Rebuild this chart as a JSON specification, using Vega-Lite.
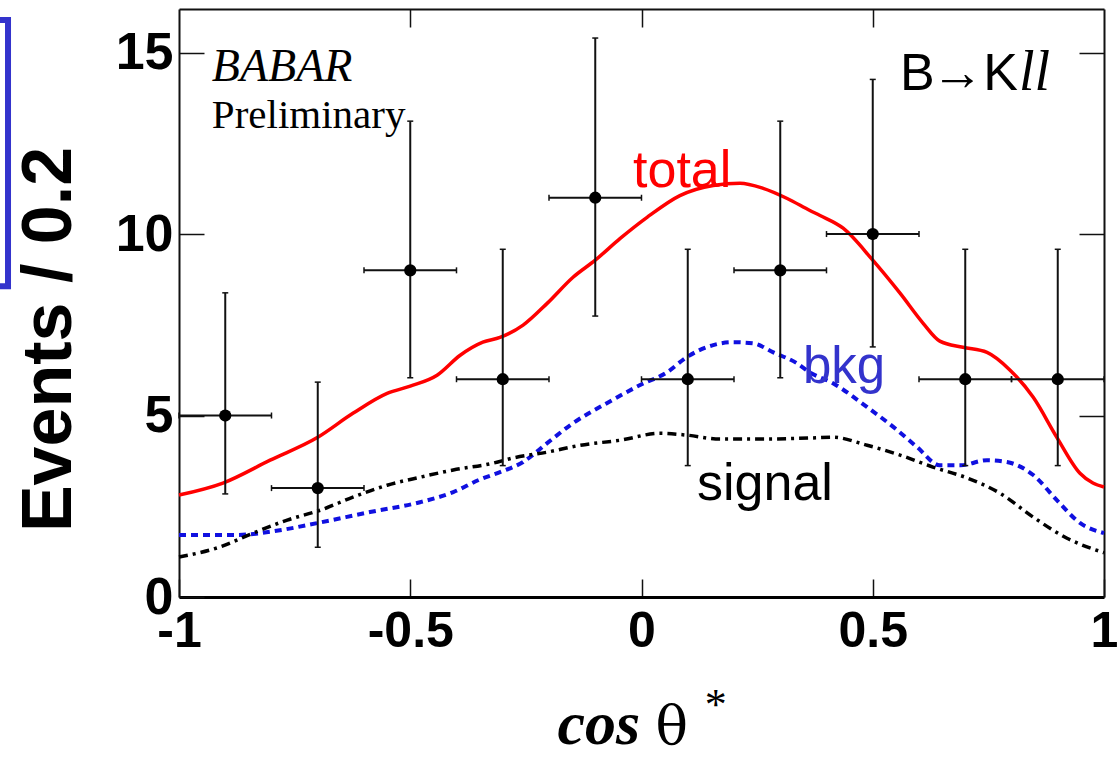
{
  "$schema": "https://vega.github.io/schema/vega-lite/v6.json",
  "width": 925,
  "height": 588,
  "autosize": {"type": "none"},
  "padding": {"left": 179, "top": 9, "right": 15, "bottom": 161},
  "background": "white",
  "config": {
    "view": {"stroke": null},
    "axis": {"grid": false, "title": null, "labelOverlap": false, "labelFlush": false, "domainColor": "#111", "tickColor": "#111"}
  },
  "datasets": {
    "one": [{"k": 1}],
    "pts": [
      {"x": -0.9, "y": 5, "ylo": 2.84, "yhi": 8.38, "xlo": -1.0, "xhi": -0.8},
      {"x": -0.7, "y": 3, "ylo": 1.37, "yhi": 5.92, "xlo": -0.8, "xhi": -0.6},
      {"x": -0.5, "y": 9, "ylo": 6.04, "yhi": 13.11, "xlo": -0.6, "xhi": -0.4},
      {"x": -0.3, "y": 6, "ylo": 3.62, "yhi": 9.58, "xlo": -0.4, "xhi": -0.2},
      {"x": -0.1, "y": 11, "ylo": 7.74, "yhi": 15.4, "xlo": -0.2, "xhi": 0.0},
      {"x": 0.1, "y": 6, "ylo": 3.62, "yhi": 9.58, "xlo": 0.0, "xhi": 0.2},
      {"x": 0.3, "y": 9, "ylo": 6.04, "yhi": 13.11, "xlo": 0.2, "xhi": 0.4},
      {"x": 0.5, "y": 10, "ylo": 6.89, "yhi": 14.26, "xlo": 0.4, "xhi": 0.6},
      {"x": 0.7, "y": 6, "ylo": 3.62, "yhi": 9.58, "xlo": 0.6, "xhi": 0.8},
      {"x": 0.9, "y": 6, "ylo": 3.62, "yhi": 9.58, "xlo": 0.8, "xhi": 1.0}
    ],
    "curves": [
      {"s": "total", "x": -1.0, "y": 2.81}, {"s": "total", "x": -0.905, "y": 3.14}, {"s": "total", "x": -0.803, "y": 3.77},
      {"s": "total", "x": -0.7, "y": 4.4}, {"s": "total", "x": -0.624, "y": 5.06}, {"s": "total", "x": -0.55, "y": 5.61},
      {"s": "total", "x": -0.5, "y": 5.81}, {"s": "total", "x": -0.442, "y": 6.11}, {"s": "total", "x": -0.392, "y": 6.66},
      {"s": "total", "x": -0.343, "y": 7.02}, {"s": "total", "x": -0.306, "y": 7.15}, {"s": "total", "x": -0.256, "y": 7.49},
      {"s": "total", "x": -0.204, "y": 8.09}, {"s": "total", "x": -0.148, "y": 8.81}, {"s": "total", "x": -0.1, "y": 9.28},
      {"s": "total", "x": -0.046, "y": 9.88}, {"s": "total", "x": 0.012, "y": 10.46}, {"s": "total", "x": 0.083, "y": 11.06},
      {"s": "total", "x": 0.155, "y": 11.34}, {"s": "total", "x": 0.213, "y": 11.4}, {"s": "total", "x": 0.263, "y": 11.26},
      {"s": "total", "x": 0.315, "y": 10.98}, {"s": "total", "x": 0.364, "y": 10.65}, {"s": "total", "x": 0.386, "y": 10.51},
      {"s": "total", "x": 0.436, "y": 10.16}, {"s": "total", "x": 0.5, "y": 9.28}, {"s": "total", "x": 0.559, "y": 8.37},
      {"s": "total", "x": 0.609, "y": 7.54}, {"s": "total", "x": 0.645, "y": 7.05}, {"s": "total", "x": 0.695, "y": 6.88},
      {"s": "total", "x": 0.747, "y": 6.74}, {"s": "total", "x": 0.797, "y": 6.25}, {"s": "total", "x": 0.847, "y": 5.5},
      {"s": "total", "x": 0.898, "y": 4.4}, {"s": "total", "x": 0.948, "y": 3.41}, {"s": "total", "x": 0.976, "y": 3.14},
      {"s": "total", "x": 1.0, "y": 3.03},
      {"s": "bkg", "x": -1.0, "y": 1.71}, {"s": "bkg", "x": -0.875, "y": 1.71}, {"s": "bkg", "x": -0.782, "y": 1.84},
      {"s": "bkg", "x": -0.7, "y": 2.04}, {"s": "bkg", "x": -0.587, "y": 2.34}, {"s": "bkg", "x": -0.479, "y": 2.61},
      {"s": "bkg", "x": -0.407, "y": 2.89}, {"s": "bkg", "x": -0.349, "y": 3.24}, {"s": "bkg", "x": -0.306, "y": 3.44},
      {"s": "bkg", "x": -0.256, "y": 3.72}, {"s": "bkg", "x": -0.204, "y": 4.24}, {"s": "bkg", "x": -0.148, "y": 4.79},
      {"s": "bkg", "x": -0.075, "y": 5.34}, {"s": "bkg", "x": -0.003, "y": 5.84}, {"s": "bkg", "x": 0.055, "y": 6.19},
      {"s": "bkg", "x": 0.098, "y": 6.61}, {"s": "bkg", "x": 0.155, "y": 6.94}, {"s": "bkg", "x": 0.198, "y": 7.02},
      {"s": "bkg", "x": 0.241, "y": 6.99}, {"s": "bkg", "x": 0.285, "y": 6.74}, {"s": "bkg", "x": 0.336, "y": 6.44},
      {"s": "bkg", "x": 0.364, "y": 6.19}, {"s": "bkg", "x": 0.414, "y": 5.89}, {"s": "bkg", "x": 0.488, "y": 5.23},
      {"s": "bkg", "x": 0.545, "y": 4.68}, {"s": "bkg", "x": 0.596, "y": 4.13}, {"s": "bkg", "x": 0.645, "y": 3.63},
      {"s": "bkg", "x": 0.69, "y": 3.63}, {"s": "bkg", "x": 0.747, "y": 3.77}, {"s": "bkg", "x": 0.79, "y": 3.72},
      {"s": "bkg", "x": 0.847, "y": 3.36}, {"s": "bkg", "x": 0.898, "y": 2.67}, {"s": "bkg", "x": 0.948, "y": 2.04},
      {"s": "bkg", "x": 1.0, "y": 1.76},
      {"s": "signal", "x": -1.0, "y": 1.1}, {"s": "signal", "x": -0.911, "y": 1.38}, {"s": "signal", "x": -0.84, "y": 1.76},
      {"s": "signal", "x": -0.766, "y": 2.12}, {"s": "signal", "x": -0.695, "y": 2.39}, {"s": "signal", "x": -0.624, "y": 2.75},
      {"s": "signal", "x": -0.55, "y": 3.08}, {"s": "signal", "x": -0.479, "y": 3.3}, {"s": "signal", "x": -0.407, "y": 3.5},
      {"s": "signal", "x": -0.32, "y": 3.69}, {"s": "signal", "x": -0.278, "y": 3.83}, {"s": "signal", "x": -0.204, "y": 3.99},
      {"s": "signal", "x": -0.133, "y": 4.18}, {"s": "signal", "x": -0.046, "y": 4.32}, {"s": "signal", "x": 0.04, "y": 4.51},
      {"s": "signal", "x": 0.098, "y": 4.46}, {"s": "signal", "x": 0.17, "y": 4.35}, {"s": "signal", "x": 0.263, "y": 4.35},
      {"s": "signal", "x": 0.364, "y": 4.38}, {"s": "signal", "x": 0.414, "y": 4.4}, {"s": "signal", "x": 0.488, "y": 4.18},
      {"s": "signal", "x": 0.559, "y": 3.91}, {"s": "signal", "x": 0.63, "y": 3.58}, {"s": "signal", "x": 0.704, "y": 3.28},
      {"s": "signal", "x": 0.775, "y": 2.86}, {"s": "signal", "x": 0.847, "y": 2.2}, {"s": "signal", "x": 0.92, "y": 1.62},
      {"s": "signal", "x": 1.0, "y": 1.22}
    ]
  },
  "layer": [
    {
      "data": {"name": "curves"},
      "transform": [{"filter": "datum.s === 'bkg'"}],
      "mark": {"type": "line", "color": "#1010e0", "strokeWidth": 4, "strokeDash": [7, 5], "interpolate": "monotone"},
      "encoding": {
        "x": {"field": "x", "type": "quantitative", "scale": {"domain": [-1, 1], "nice": false, "zero": false},
              "axis": {"orient": "top", "values": [-0.5, 0, 0.5], "labels": false, "tickSize": -18, "tickWidth": 1.5, "domainWidth": 2}},
        "y": {"field": "y", "type": "quantitative", "scale": {"domain": [0, 16.2], "nice": false, "zero": false},
              "axis": {"orient": "right", "values": [5, 10, 15], "labels": false, "tickSize": -25, "tickWidth": 1.5, "domainWidth": 2}}
      }
    },
    {
      "data": {"name": "curves"},
      "transform": [{"filter": "datum.s === 'signal'"}],
      "mark": {"type": "line", "color": "#000000", "strokeWidth": 3.5, "strokeDash": [9, 5, 3, 5], "interpolate": "monotone"},
      "encoding": {
        "x": {"field": "x", "type": "quantitative", "scale": {"domain": [-1, 1], "nice": false, "zero": false}, "axis": null},
        "y": {"field": "y", "type": "quantitative", "scale": {"domain": [0, 16.2], "nice": false, "zero": false}, "axis": null}
      }
    },
    {
      "data": {"name": "curves"},
      "transform": [{"filter": "datum.s === 'total'"}],
      "mark": {"type": "line", "color": "#ff0000", "strokeWidth": 3.5, "interpolate": "monotone"},
      "encoding": {
        "x": {"field": "x", "type": "quantitative", "scale": {"domain": [-1, 1], "nice": false, "zero": false}, "axis": null},
        "y": {"field": "y", "type": "quantitative", "scale": {"domain": [0, 16.2], "nice": false, "zero": false}, "axis": null}
      }
    },
    {
      "data": {"name": "pts"},
      "mark": {"type": "rule", "color": "#111", "strokeWidth": 2},
      "encoding": {
        "x": {"field": "x", "type": "quantitative", "scale": {"domain": [-1, 1], "nice": false, "zero": false}, "axis": null},
        "y": {"field": "ylo", "type": "quantitative", "scale": {"domain": [0, 16.2], "nice": false, "zero": false}, "axis": null},
        "y2": {"field": "yhi"}
      }
    },
    {
      "data": {"name": "pts"},
      "mark": {"type": "rule", "color": "#111", "strokeWidth": 2},
      "encoding": {
        "x": {"field": "xlo", "type": "quantitative", "scale": {"domain": [-1, 1], "nice": false, "zero": false}, "axis": null},
        "x2": {"field": "xhi"},
        "y": {"field": "y", "type": "quantitative", "scale": {"domain": [0, 16.2], "nice": false, "zero": false}, "axis": null}
      }
    },
    {
      "data": {"name": "pts"},
      "mark": {"type": "point", "shape": "M-1,0L1,0", "size": 36, "filled": false, "stroke": "#111", "strokeWidth": 1.5, "opacity": 1},
      "encoding": {
        "x": {"field": "x", "type": "quantitative", "scale": {"domain": [-1, 1], "nice": false, "zero": false}, "axis": null},
        "y": {"field": "ylo", "type": "quantitative", "scale": {"domain": [0, 16.2], "nice": false, "zero": false}, "axis": null}
      }
    },
    {
      "data": {"name": "pts"},
      "mark": {"type": "point", "shape": "M-1,0L1,0", "size": 36, "filled": false, "stroke": "#111", "strokeWidth": 1.5, "opacity": 1},
      "encoding": {
        "x": {"field": "x", "type": "quantitative", "scale": {"domain": [-1, 1], "nice": false, "zero": false}, "axis": null},
        "y": {"field": "yhi", "type": "quantitative", "scale": {"domain": [0, 16.2], "nice": false, "zero": false}, "axis": null}
      }
    },
    {
      "data": {"name": "pts"},
      "mark": {"type": "point", "shape": "M0,-1L0,1", "size": 36, "filled": false, "stroke": "#111", "strokeWidth": 1.5, "opacity": 1},
      "encoding": {
        "x": {"field": "xlo", "type": "quantitative", "scale": {"domain": [-1, 1], "nice": false, "zero": false}, "axis": null},
        "y": {"field": "y", "type": "quantitative", "scale": {"domain": [0, 16.2], "nice": false, "zero": false}, "axis": null}
      }
    },
    {
      "data": {"name": "pts"},
      "mark": {"type": "point", "shape": "M0,-1L0,1", "size": 36, "filled": false, "stroke": "#111", "strokeWidth": 1.5, "opacity": 1},
      "encoding": {
        "x": {"field": "xhi", "type": "quantitative", "scale": {"domain": [-1, 1], "nice": false, "zero": false}, "axis": null},
        "y": {"field": "y", "type": "quantitative", "scale": {"domain": [0, 16.2], "nice": false, "zero": false}, "axis": null}
      }
    },
    {
      "data": {"name": "pts"},
      "mark": {"type": "point", "shape": "circle", "filled": true, "size": 150, "color": "#000", "opacity": 1},
      "encoding": {
        "x": {"field": "x", "type": "quantitative", "scale": {"domain": [-1, 1], "nice": false, "zero": false},
              "axis": {"orient": "bottom", "values": [-1, -0.5, 0, 0.5, 1], "labelExpr": "'' + datum.value", "tickSize": -18, "tickWidth": 1.5, "domainWidth": 3, "domainColor": "#000",
                       "labelPadding": 27, "labelFont": "Liberation Sans", "labelFontWeight": "bold", "labelFontSize": 50, "labelColor": "#000"}},
        "y": {"field": "y", "type": "quantitative", "scale": {"domain": [0, 16.2], "nice": false, "zero": false},
              "axis": {"orient": "left", "values": [0, 5, 10, 15], "tickSize": -25, "tickWidth": 1.5, "domainWidth": 2,
                       "labelPadding": 31, "labelFont": "Liberation Sans", "labelFontWeight": "bold", "labelFontSize": 52, "labelColor": "#000",
                       "title": "Events / 0.2", "titleFont": "Liberation Sans", "titleFontWeight": "bold", "titleFontSize": 70, "titleColor": "#000",
                       "titleAngle": 270, "titleX": -109, "titleY": 330, "titleAlign": "center", "titleBaseline": "alphabetic"}}
      }
    },
    {
      "data": {"name": "one"},
      "mark": {"type": "text", "text": "total", "font": "Liberation Sans", "fontSize": 52, "color": "#ff0000", "align": "center", "baseline": "alphabetic"},
      "encoding": {
        "x": {"datum": 0.088, "type": "quantitative", "scale": {"domain": [-1, 1], "nice": false, "zero": false}, "axis": null},
        "y": {"datum": 11.29, "type": "quantitative", "scale": {"domain": [0, 16.2], "nice": false, "zero": false}, "axis": null}
      }
    },
    {
      "data": {"name": "one"},
      "mark": {"type": "text", "text": "bkg", "font": "Liberation Sans", "fontSize": 51, "color": "#3333cc", "align": "center", "baseline": "alphabetic"},
      "encoding": {
        "x": {"datum": 0.438, "type": "quantitative", "scale": {"domain": [-1, 1], "nice": false, "zero": false}, "axis": null},
        "y": {"datum": 5.89, "type": "quantitative", "scale": {"domain": [0, 16.2], "nice": false, "zero": false}, "axis": null}
      }
    },
    {
      "data": {"name": "one"},
      "mark": {"type": "text", "text": "signal", "font": "Liberation Sans", "fontSize": 52, "color": "#000", "align": "center", "baseline": "alphabetic"},
      "encoding": {
        "x": {"datum": 0.267, "type": "quantitative", "scale": {"domain": [-1, 1], "nice": false, "zero": false}, "axis": null},
        "y": {"datum": 2.67, "type": "quantitative", "scale": {"domain": [0, 16.2], "nice": false, "zero": false}, "axis": null}
      }
    },
    {
      "data": {"name": "one"},
      "mark": {"type": "text", "text": "B", "font": "Liberation Sans", "fontSize": 52, "color": "#000", "align": "left", "baseline": "alphabetic"},
      "encoding": {
        "x": {"datum": 0.559, "type": "quantitative", "scale": {"domain": [-1, 1], "nice": false, "zero": false}, "axis": null},
        "y": {"datum": 13.98, "type": "quantitative", "scale": {"domain": [0, 16.2], "nice": false, "zero": false}, "axis": null}
      }
    },
    {
      "data": {"name": "one"},
      "mark": {"type": "text", "text": "→K", "font": "Liberation Sans", "fontSize": 52, "color": "#000", "align": "right", "baseline": "alphabetic"},
      "encoding": {
        "x": {"datum": 0.814, "type": "quantitative", "scale": {"domain": [-1, 1], "nice": false, "zero": false}, "axis": null},
        "y": {"datum": 13.98, "type": "quantitative", "scale": {"domain": [0, 16.2], "nice": false, "zero": false}, "axis": null}
      }
    },
    {
      "data": {"name": "one"},
      "mark": {"type": "text", "text": "ll", "font": "Liberation Serif", "fontStyle": "italic", "fontSize": 56, "color": "#000", "align": "left", "baseline": "alphabetic"},
      "encoding": {
        "x": {"datum": 0.816, "type": "quantitative", "scale": {"domain": [-1, 1], "nice": false, "zero": false}, "axis": null},
        "y": {"datum": 13.98, "type": "quantitative", "scale": {"domain": [0, 16.2], "nice": false, "zero": false}, "axis": null}
      }
    },
    {
      "data": {"name": "one"},
      "mark": {"type": "text", "text": "BABAR", "font": "Liberation Serif", "fontStyle": "italic", "fontSize": 46, "color": "#000", "align": "left", "baseline": "alphabetic"},
      "encoding": {
        "x": {"datum": -0.929, "type": "quantitative", "scale": {"domain": [-1, 1], "nice": false, "zero": false}, "axis": null},
        "y": {"datum": 14.23, "type": "quantitative", "scale": {"domain": [0, 16.2], "nice": false, "zero": false}, "axis": null}
      }
    },
    {
      "data": {"name": "one"},
      "mark": {"type": "text", "text": "Preliminary", "font": "Liberation Serif", "fontSize": 41, "color": "#000", "align": "left", "baseline": "alphabetic"},
      "encoding": {
        "x": {"datum": -0.929, "type": "quantitative", "scale": {"domain": [-1, 1], "nice": false, "zero": false}, "axis": null},
        "y": {"datum": 12.91, "type": "quantitative", "scale": {"domain": [0, 16.2], "nice": false, "zero": false}, "axis": null}
      }
    },
    {
      "data": {"name": "one"},
      "mark": {"type": "text", "text": "cos", "font": "Liberation Serif", "fontStyle": "italic", "fontWeight": "bold", "fontSize": 62, "color": "#000", "align": "right", "baseline": "alphabetic"},
      "encoding": {
        "x": {"datum": -0.003, "type": "quantitative", "scale": {"domain": [-1, 1], "nice": false, "zero": false}, "axis": null},
        "y": {"datum": -4.06, "type": "quantitative", "scale": {"domain": [0, 16.2], "nice": false, "zero": false}, "axis": null}
      }
    },
    {
      "data": {"name": "one"},
      "mark": {"type": "text", "text": "θ", "font": "DejaVu Serif", "fontSize": 54, "color": "#000", "align": "left", "baseline": "alphabetic"},
      "encoding": {
        "x": {"datum": 0.03, "type": "quantitative", "scale": {"domain": [-1, 1], "nice": false, "zero": false}, "axis": null},
        "y": {"datum": -4.06, "type": "quantitative", "scale": {"domain": [0, 16.2], "nice": false, "zero": false}, "axis": null}
      }
    },
    {
      "data": {"name": "one"},
      "mark": {"type": "text", "text": "*", "font": "Liberation Serif", "fontSize": 44, "color": "#000", "align": "left", "baseline": "alphabetic"},
      "encoding": {
        "x": {"datum": 0.137, "type": "quantitative", "scale": {"domain": [-1, 1], "nice": false, "zero": false}, "axis": null},
        "y": {"datum": -3.35, "type": "quantitative", "scale": {"domain": [0, 16.2], "nice": false, "zero": false}, "axis": null}
      }
    },
    {
      "data": {"name": "one"},
      "mark": {"type": "rect", "fillOpacity": 0, "stroke": "#3333cc", "strokeWidth": 6},
      "encoding": {
        "x": {"datum": -1.6, "type": "quantitative", "scale": {"domain": [-1, 1], "nice": false, "zero": false}, "axis": null},
        "x2": {"datum": -1.3697},
        "y": {"datum": 8.56, "type": "quantitative", "scale": {"domain": [0, 16.2], "nice": false, "zero": false}, "axis": null},
        "y2": {"datum": 15.9}
      }
    }
  ],
  "resolve": {"axis": {"x": "independent", "y": "independent"}}
}
